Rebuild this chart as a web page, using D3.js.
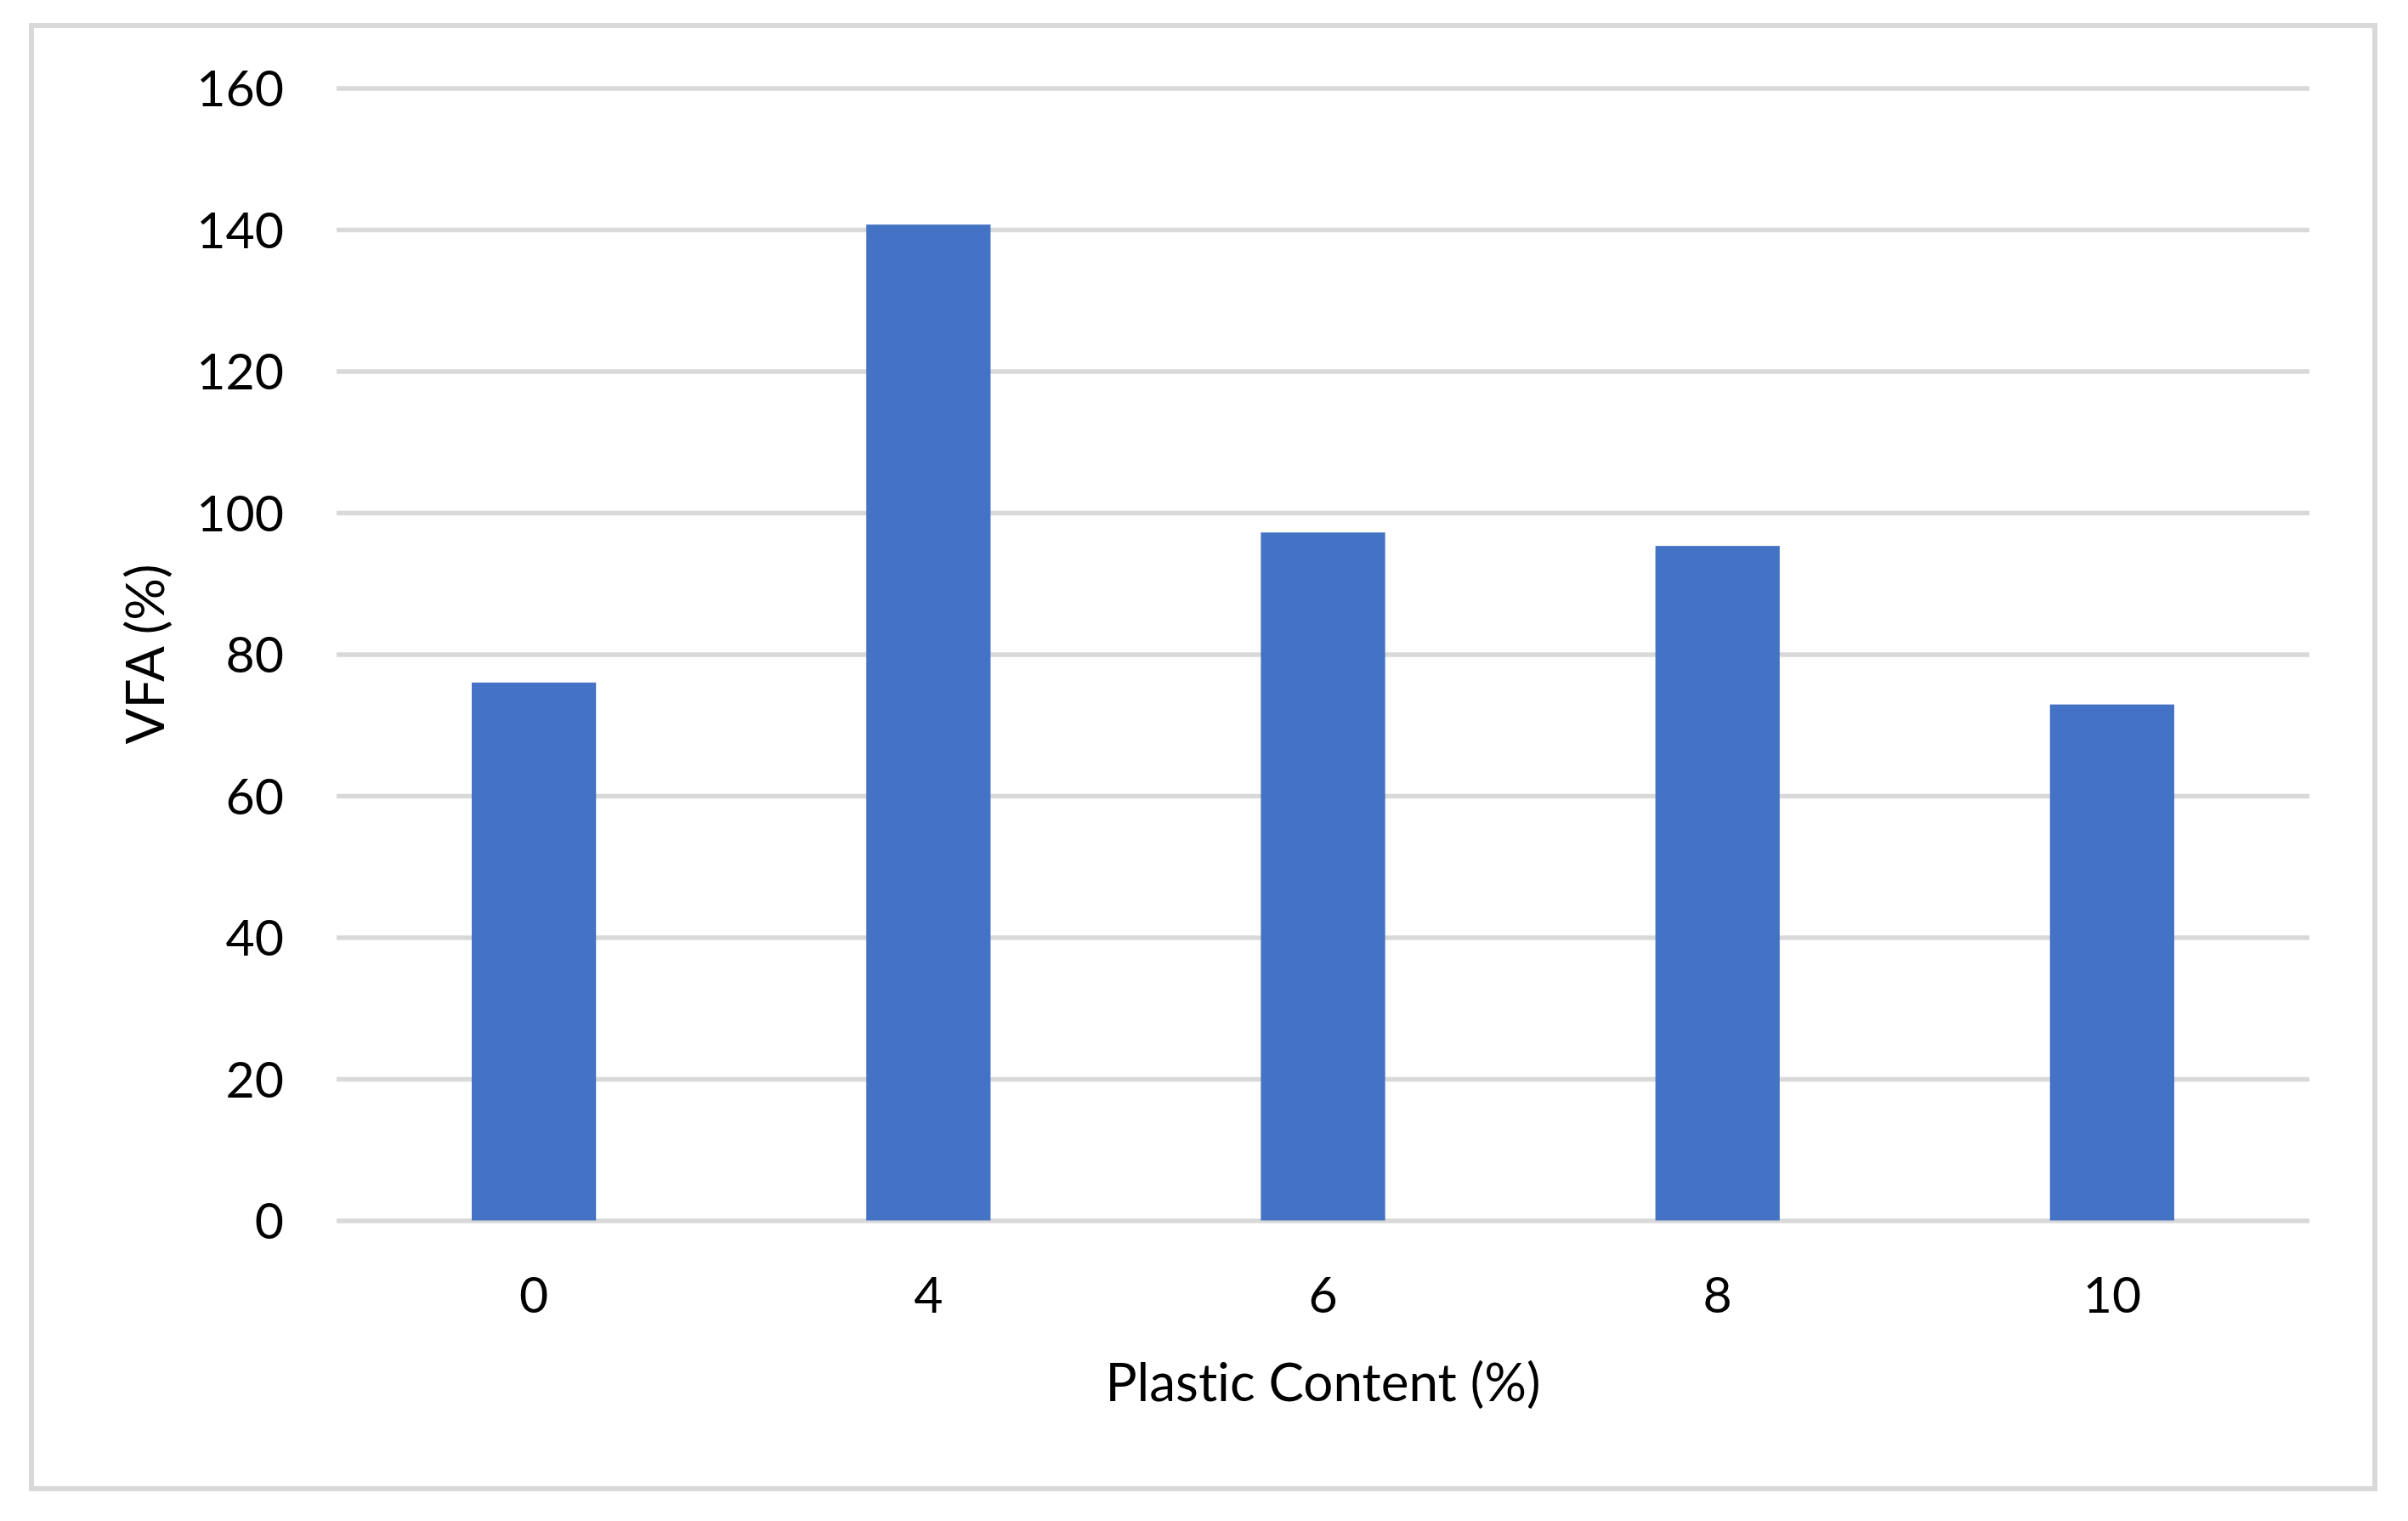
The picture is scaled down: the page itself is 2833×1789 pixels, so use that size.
<!DOCTYPE html>
<html>
<head>
<meta charset="utf-8">
<script src="https://cdn.jsdelivr.net/npm/d3@7"></script>
<style>
  html, body { margin: 0; padding: 0; background: #ffffff; }
  svg { display: block; }
  text { font-family: Lato, "Open Sans", "Liberation Sans", sans-serif; fill: #000; font-variant-ligatures: none; font-feature-settings: "liga" 0; }
</style>
</head>
<body>
<script>
// ---- data ----
const categories = ["0", "4", "6", "8", "10"];
const vfaValues = [76.0, 140.7, 97.2, 95.3, 72.9];
const yTicks = [0, 20, 40, 60, 80, 100, 120, 140, 160];
const xAxisTitle = "Plastic Content (%)";
const yAxisTitle = "VFA (%)";

// ---- layout ----
const W = 2833, H = 1789;
const plot = { left: 396, right: 2717, top: 103.5, bottom: 1435.5 };

const svg = d3.select("body").append("svg")
  .attr("width", W).attr("height", H);

svg.append("rect").attr("x", 0).attr("y", 0).attr("width", W).attr("height", H).attr("fill", "#fff");

// outer chart border
svg.append("rect")
  .attr("x", 37).attr("y", 30)
  .attr("width", 2794 - 37).attr("height", 1751 - 30)
  .attr("fill", "none").attr("stroke", "#d9d9d9").attr("stroke-width", 6);

const x = d3.scaleBand().domain(categories)
  .range([plot.left, plot.right])
  .paddingInner(0.685).paddingOuter(0.685 / 2);

const y = d3.scaleLinear().domain([0, 160]).range([plot.bottom, plot.top]);

// gridlines
const yAxis = d3.axisLeft(y).tickValues(yTicks)
  .tickSize(-(plot.right - plot.left)).tickPadding(62).tickFormat(d3.format("d"));
const gy = svg.append("g").attr("transform", `translate(${plot.left},0)`).call(yAxis);
gy.select(".domain").remove();
gy.selectAll(".tick line").attr("stroke", "#d9d9d9").attr("stroke-width", 5.5);
gy.selectAll(".tick text").attr("font-size", 59).attr("fill", "#000")
  .attr("dy", "0.36em")
  .style("font-family", "Lato, 'Open Sans', sans-serif");

// bars
svg.append("g").selectAll("rect").data(vfaValues).join("rect")
  .attr("x", (d, i) => x(categories[i]))
  .attr("width", x.bandwidth())
  .attr("y", d => y(d))
  .attr("height", d => y(0) - y(d))
  .attr("fill", "#4472c4");

// x axis labels
const xAxis = d3.axisBottom(x).tickSize(0).tickPadding(67);
const gx = svg.append("g").attr("transform", `translate(0,${plot.bottom})`).call(xAxis);
gx.select(".domain").remove();
gx.selectAll(".tick text").attr("font-size", 59).attr("fill", "#000")
  .style("font-family", "Lato, 'Open Sans', sans-serif");

// axis titles
svg.append("text")
  .attr("x", (plot.left + plot.right) / 2).attr("y", 1648)
  .attr("text-anchor", "middle").attr("font-size", 62)
  .text(xAxisTitle);

svg.append("text")
  .attr("transform", `translate(193,${(plot.top + plot.bottom) / 2}) rotate(-90)`)
  .attr("text-anchor", "middle").attr("font-size", 62)
  .text(yAxisTitle);
</script>
</body>
</html>
